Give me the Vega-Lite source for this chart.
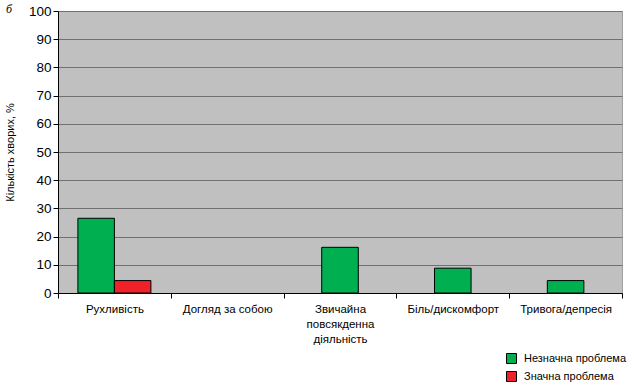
{
  "$schema": "https://vega.github.io/schema/vega-lite/v6.json",
  "width": 564,
  "height": 282,
  "autosize": "none",
  "padding": {"left": 58, "top": 11, "right": 12, "bottom": 93},
  "background": "white",
  "title": {"text": "б", "anchor": "start", "frame": "group", "dx": -52, "offset": -12, "font": "Liberation Serif", "fontStyle": "italic", "fontWeight": "normal", "fontSize": 12, "color": "black"},
  "config": {
    "view": {"fill": "#c0c0c0", "stroke": "#a0a0a0", "strokeWidth": 1},
    "font": "Liberation Sans"
  },
  "data": {"values": [
    {"category": "Рухливість", "series": "Незначна проблема", "value": 26.5},
    {"category": "Рухливість", "series": "Значна проблема", "value": 4.4},
    {"category": "Звичайна повсякденна діяльність", "series": "Незначна проблема", "value": 16.2},
    {"category": "Біль/дискомфорт", "series": "Незначна проблема", "value": 8.8},
    {"category": "Тривога/депресія", "series": "Незначна проблема", "value": 4.4}
  ]},
  "encoding": {
    "x": {
      "field": "category", "type": "nominal",
      "scale": {"domain": ["Рухливість", "Догляд за собою", "Звичайна повсякденна діяльність", "Біль/дискомфорт", "Тривога/депресія"], "paddingInner": 0, "paddingOuter": 0},
      "axis": {
        "title": null, "labelAngle": 0, "tickBand": "extent", "tickSize": 5, "tickColor": "black",
        "domainColor": "black", "labelColor": "black", "labelFontSize": 11.5, "labelPadding": 5,
        "labelLineHeight": 15, "grid": false,
        "labelExpr": "datum.value == 'Звичайна повсякденна діяльність' ? ['Звичайна', 'повсякденна', 'діяльність'] : datum.value"
      }
    },
    "y": {
      "field": "value", "type": "quantitative",
      "scale": {"domain": [0, 100], "nice": false},
      "axis": {
        "title": "Кількість хворих, %", "titleFontSize": 11, "titleFontWeight": "normal", "titleColor": "black", "titlePadding": 13,
        "values": [0, 10, 20, 30, 40, 50, 60, 70, 80, 90, 100],
        "labelFontSize": 13.5, "labelColor": "black", "labelPadding": 2,
        "tickSize": 5, "tickColor": "black", "domainColor": "black",
        "grid": true, "gridColor": "#707070", "gridOpacity": 1
      }
    },
    "color": {
      "field": "series", "type": "nominal",
      "scale": {"domain": ["Незначна проблема", "Значна проблема"], "range": ["#00b050", "#ee2228"]},
      "legend": {
        "title": null, "orient": "none", "legendX": 448, "legendY": 342,
        "symbolType": "square", "symbolSize": 100, "symbolStrokeColor": "black", "symbolStrokeWidth": 1, "symbolOpacity": 1,
        "labelFontSize": 11, "labelColor": "black", "labelOffset": 7, "rowPadding": 3
      }
    }
  },
  "layer": [
    {
      "transform": [{"filter": "datum.category == 'Рухливість'"}],
      "mark": {"type": "bar", "stroke": "black", "strokeWidth": 1},
      "encoding": {
        "xOffset": {"field": "series", "type": "nominal", "scale": {"domain": ["Незначна проблема", "Значна проблема"], "paddingInner": 0, "paddingOuter": 0.545}}
      }
    },
    {
      "transform": [{"filter": "datum.category != 'Рухливість'"}],
      "mark": {"type": "bar", "stroke": "black", "strokeWidth": 1, "width": {"band": 0.324}}
    }
  ]
}
